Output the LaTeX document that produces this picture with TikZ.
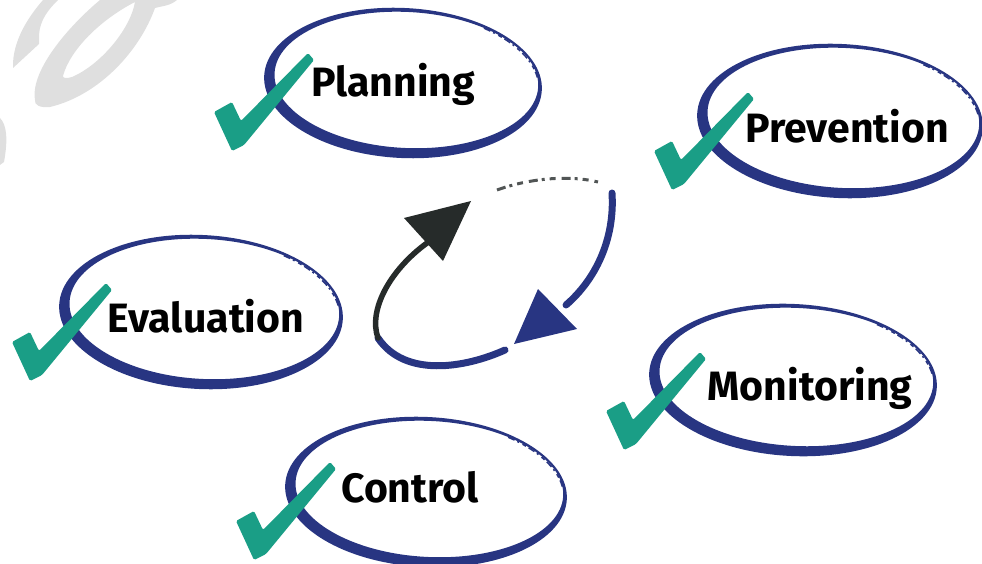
\documentclass[tikz,border=0pt]{standalone}
\usepackage{fontspec}
\newfontfamily\lblfont{Fira Sans}
\definecolor{navy}{HTML}{283582}
\definecolor{chkteal}{HTML}{1A9E86}
\definecolor{wmgray}{HTML}{DFDFDF}
\definecolor{arrdark}{HTML}{262B2A}
\tikzset{
  lbl/.style={font=\lblfont\bfseries\fontsize{41}{41}\selectfont, text=black, anchor=base, inner sep=0pt},
  chkmark/.style={fill=chkteal, rounded corners=1.5pt},
}
\newcommand\myring[4]{%
  \pgfmathsetmacro\rxo{#3+4}\pgfmathsetmacro\ryo{#4+4}%
  \pgfmathsetmacro\rxi{#3-3}\pgfmathsetmacro\ryi{#4-3}%
  \pgfmathsetmacro\rxd{#3+1}\pgfmathsetmacro\ryd{#4+1}%
  \begin{scope}[shift={(#1,#2)},rotate=-3]
    \fill[navy,even odd rule] (0,0) ellipse[x radius=\rxo,y radius=\ryo]
       (3.2,-3.2) ellipse[x radius=\rxi,y radius=\ryi];
    \draw[navy,line width=1.5,dash pattern=on 7 off 3 on 2 off 4 on 4 off 3]
       ({\rxd*cos(-55)},{\ryd*sin(-55)}) arc[start angle=-55,end angle=-10,x radius=\rxd,y radius=\ryd];
  \end{scope}}
\newcommand\mycheck[2]{%
  \fill[chkmark,shift={(#1,#2)}] (-3,3) -- (-21,-36) -- (-3,-46) -- (6,-27)
     -- (73,-95) -- (79,-88) -- (9,-3) -- cycle;}
\begin{document}
\begin{tikzpicture}[x=1pt,y=-1pt]
\useasboundingbox (0,0) rectangle (982,564);
% watermark
\fill[wmgray] (13,68) .. controls (12,40) and (30,15) .. (43,0) -- (58,0)
   .. controls (48,10) and (40,20) .. (39,35) -- (39,44) -- cycle;
\fill[wmgray,even odd rule] (35,100) .. controls (30,70) and (70,25) .. (100,0) -- (177,0)
   .. controls (170,6) and (162,6) .. (155,8) .. controls (140,50) and (100,95) .. (50,107)
   .. controls (40,108) and (34,105) .. (35,100) -- cycle
   (63,76) .. controls (70,50) and (100,20) .. (135,2) .. controls (130,30) and (100,65) .. (72,77)
   .. controls (66,79) and (63,78) .. (63,76) -- cycle;
\fill[wmgray] (0,118) .. controls (7,125) and (8,140) .. (4,162) -- (0,165) -- cycle;
% rings
\myring{403}{83}{135}{71}
\myring{840}{121}{139}{73}
\myring{201}{312}{138}{73}
\myring{793}{380}{140}{72}
\myring{426}{492}{137}{71}
% checks
\mycheck{235}{148}
\mycheck{675}{187}
\mycheck{33}{378}
\mycheck{627}{447}
\mycheck{257}{557}
% labels
\node[lbl] (plan) at (393,97) {Planning};
\node[lbl] (prev) at (847,143) {Prevention};
\node[lbl] (eval) at (206,332) {Evaluation};
\node[lbl] (moni) at (810,400) {Monitoring};
\node[lbl] (ctrl) at (410,502) {Control};
% central cycle
\coordinate (r1) at (612,193);
\coordinate (r2) at (566,305);
\coordinate (b1) at (505,350);
\coordinate (b2) at (378,338);
\coordinate (d2) at (427,243);
\coordinate (t1) at (497,190);
\coordinate (t2) at (598,182);
\draw[navy,line width=7,line cap=round] (r1) .. controls (615,240) and (595,280) .. (r2);
\fill[navy] (538,289) -- (577,329) -- (514,344) -- cycle;
\draw[navy,line width=7,line cap=round] (b1) .. controls (465,368) and (405,378) .. (b2);
\draw[arrdark,line width=5.5,line cap=round] (b2) .. controls (368,310) and (390,270) .. (d2);
\fill[arrdark] (404,218) -- (471,201) -- (443,261) -- cycle;
\draw[arrdark!80,line width=3,dash pattern=on 9 off 4 on 3 off 5 on 6 off 6] (t1) .. controls (530,178) and (570,175) .. (t2);
\end{tikzpicture}
\end{document}
